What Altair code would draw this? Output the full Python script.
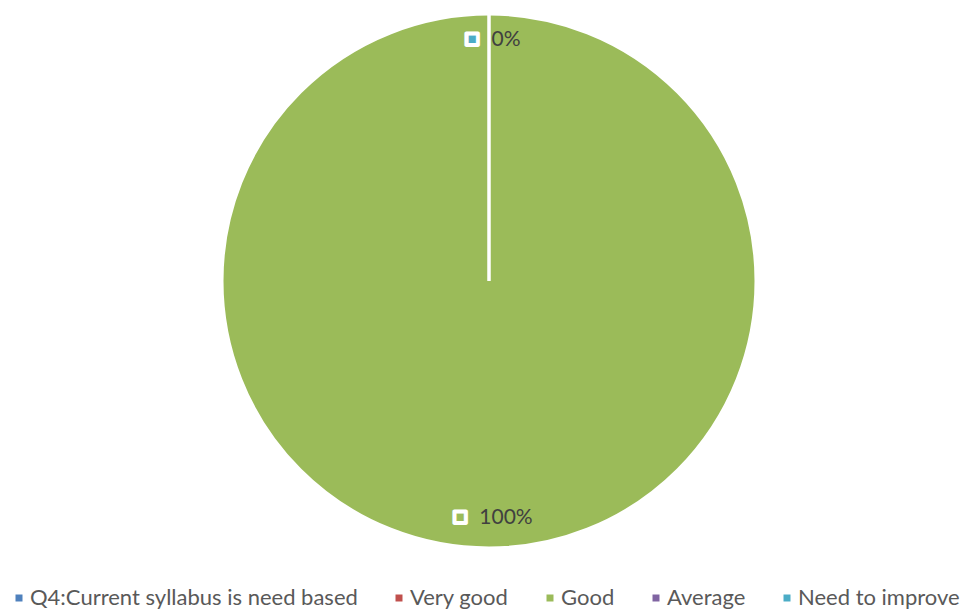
import altair as alt
import pandas as pd

categories = ["Q4:Current syllabus is need based", "Very good", "Good", "Average", "Need to improve"]
values = [0, 0, 100, 0, 0]
labels = ["", "", "100%", "", "0%"]
colors = ["#4F81BD", "#C0504D", "#9BBB59", "#8064A2", "#4BACC6"]

df = pd.DataFrame({
    "category": categories,
    "value": values,
    "label": labels,
    "idx": list(range(len(categories))),
})

color_scale = alt.Scale(domain=categories, range=colors)
FONT = "Lato"

base = alt.Chart(df).encode(
    theta=alt.Theta("value:Q", stack=True),
    order=alt.Order("idx:Q"),
)

arc = base.mark_arc(outerRadius=267, stroke="white", strokeWidth=3).encode(
    color=alt.Color(
        "category:N",
        scale=color_scale,
        sort=categories,
        legend=alt.Legend(
            orient="none",
            legendX=-1,
            legendY=577,
            direction="horizontal",
            title=None,
            symbolType="square",
            symbolSize=49,
            symbolStrokeWidth=0,
            labelFont=FONT,
            labelFontSize=22,
            labelLimit=0,
            labelColor="#595959",
            labelOffset=0,
            columnPadding=30,
        ),
    )
)

text = base.mark_text(radius=239, fontSize=21, font=FONT, color="#404040", dx=17, dy=-2, baseline="middle").encode(
    text="label:N"
)

def marker(lbl, dx):
    return base.transform_calculate(
        m=f"datum.label == '{lbl}' ? '\u25a0' : ''"
    ).mark_text(
        radius=239, dx=dx, dy=-4.5, fontSize=15, font="DejaVu Sans",
        stroke="white", strokeWidth=4, strokeJoin="round", baseline="middle",
    ).encode(
        text="m:N",
        color=alt.Color("category:N", scale=color_scale, legend=None),
    )

chart = alt.layer(arc, text, marker("0%", -17), marker("100%", -29)).properties(
    width=960, height=542, padding=0
).configure_view(stroke=None)

chart.save("out.html", embed_options={"renderer": "svg", "actions": False})
